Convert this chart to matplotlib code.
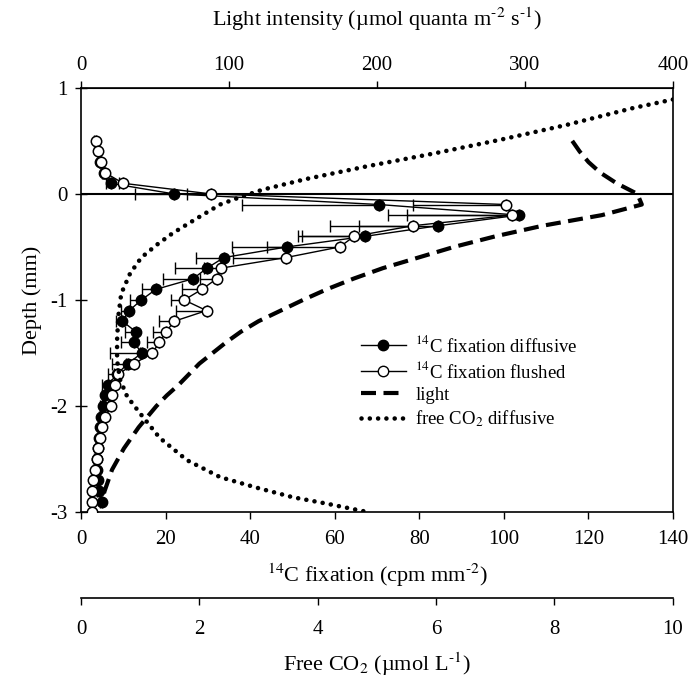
import numpy as np
import matplotlib
matplotlib.use("Agg")
import matplotlib.pyplot as plt
from matplotlib.lines import Line2D

plt.rcParams['font.family'] = ['Liberation Serif', 'DejaVu Serif']
plt.rcParams['mathtext.fontset'] = 'stix'
plt.rcParams['axes.unicode_minus'] = False

# 14C fixation, diffusive (filled circles)
depth_diff = [0.3, 0.2, 0.1, 0.0, -0.1, -0.2, -0.3, -0.4, -0.5, -0.6, -0.7, -0.8, -0.9,
              -1.0, -1.1, -1.2, -1.3, -1.4, -1.5, -1.6, -1.7, -1.8, -1.9, -2.0, -2.1,
              -2.2, -2.3, -2.4, -2.5, -2.6, -2.7, -2.8, -2.9]
fix_diff = [4.5, 5.5, 7.0, 22.0, 70.5, 103.5, 84.5, 67.2, 48.7, 33.8, 29.8, 26.5, 17.7,
            14.3, 11.4, 9.8, 13.0, 12.5, 14.4, 11.1, 8.5, 6.4, 5.7, 5.2, 4.8,
            4.5, 4.2, 4.0, 3.9, 3.8, 4.0, 4.3, 5.0]
err_diff = [0.3, 0.5, 1.0, 9.2, 32.5, 26.5, 18.7, 15.0, 4.7, 6.5, 7.6, 7.1, 3.3,
            2.7, 2.0, 1.5, 2.6, 3.0, 7.5, 3.8, 2.0, 1.5, 0.8, 0.6, 0.5,
            0.5, 0.5, 0.5, 0.5, 0.5, 0.5, 0.5, 0.5]

# 14C fixation, flushed (open circles)
depth_flush = [0.5, 0.4, 0.3, 0.2, 0.1, 0.0, -0.1, -0.2, -0.3, -0.4, -0.5, -0.6, -0.7,
               -0.8, -0.9, -1.0, -1.1, -1.2, -1.3, -1.4, -1.5, -1.6, -1.7, -1.8, -1.9,
               -2.0, -2.1, -2.2, -2.3, -2.4, -2.5, -2.6, -2.7, -2.8, -2.9, -3.0]
fix_flush = [3.5, 4.0, 4.7, 5.7, 10.0, 30.7, 100.5, 101.9, 78.5, 64.6, 61.2, 48.5, 33.1,
             32.1, 28.6, 24.4, 29.7, 22.1, 20.1, 18.5, 16.9, 12.6, 8.8, 8.0, 7.3,
             7.0, 5.7, 4.9, 4.5, 4.1, 3.7, 3.3, 2.8, 2.6, 2.6, 2.6]
err_flush = [0.3, 0.3, 0.3, 0.5, 1.0, 5.7, 22.0, 29.3, 19.6, 13.3, 25.5, 12.5, 4.0,
             4.0, 4.7, 3.1, 7.2, 3.7, 3.1, 3.0, 3.0, 2.0, 1.0, 0.8, 0.6,
             0.5, 0.5, 0.5, 0.5, 0.5, 0.5, 0.5, 0.5, 0.5, 0.5, 0.5]

# light profile (top axis)
depth_light = [0.5, 0.4, 0.3, 0.2, 0.1, 0.0, -0.1, -0.2, -0.3, -0.4, -0.5, -0.6, -0.7,
               -0.8, -0.9, -1.0, -1.1, -1.2, -1.3, -1.4, -1.5, -1.6, -1.7, -1.8, -1.9,
               -2.0, -2.1, -2.2, -2.3, -2.4, -2.5, -2.6, -2.7, -2.8, -2.9, -2.95]
light = [332, 337, 343, 351, 362, 376, 379, 352, 312, 280, 252, 228, 204,
         184, 166, 150, 135, 120, 108, 98, 89, 80, 73, 66, 58,
         51, 45, 39, 34, 29, 25, 21, 18.5, 16, 14, 13]

# free CO2, diffusive (bottom-most axis)
depth_co2 = [0.89, 0.81, 0.65, 0.51, 0.38, 0.26, 0.14, 0.04, -0.03, -0.1, -0.23, -0.37,
             -0.48, -0.6, -0.75, -0.94, -1.16, -1.38, -1.57, -1.75, -1.91, -2.07, -2.3,
             -2.51, -2.67, -2.77, -2.86, -2.92, -3.0]
co2 = [10.0, 9.33, 8.2, 7.08, 5.95, 4.83, 3.8, 3.07, 2.69, 2.35, 1.96, 1.55,
       1.28, 1.02, 0.83, 0.68, 0.63, 0.61, 0.61, 0.66, 0.78, 1.0, 1.33,
       1.79, 2.35, 2.97, 3.58, 4.15, 4.85]

dash_style = (0, (3.6, 1.8))
dot_style = (0, (0.01, 1.8))

fig = plt.figure(figsize=(6.98, 6.81), dpi=100)
ax = fig.add_axes([0.116, 0.248, 0.848, 0.623])

ax.axhline(0, color='k', lw=1.5, zorder=1)

ax.errorbar(fix_diff, depth_diff, xerr=[err_diff, np.zeros(len(err_diff))], fmt='none',
            ecolor='k', elinewidth=1, capsize=4.5, capthick=1, zorder=2)
ax.errorbar(fix_flush, depth_flush, xerr=[err_flush, np.zeros(len(err_flush))], fmt='none',
            ecolor='k', elinewidth=1, capsize=4.5, capthick=1, zorder=2)
ax.plot(fix_diff, depth_diff, '-o', color='k', mfc='k', mec='k', ms=7.5, lw=1, zorder=3)
ax.plot(fix_flush, depth_flush, '-o', color='k', mfc='white', mec='k', ms=7.5, mew=1.1,
        lw=1, zorder=4)

ax.set_xlim(0, 140)
ax.set_ylim(-3, 1)
ax.set_xticks(np.arange(0, 141, 20))
ax.set_yticks([-3, -2, -1, 0, 1])
ax.tick_params(axis='x', direction='out', length=5, width=1, labelsize=15, pad=8)
ax.tick_params(axis='y', direction='inout', length=9, width=1, labelsize=15, pad=5)
ax.tick_params(right=False)
ax.set_xlabel(r'$^{14}$C fixation (cpm mm$^{\text{-2}}$)', fontsize=16, labelpad=9)
ax.set_ylabel('Depth (mm)', fontsize=16, labelpad=6)
for s in ax.spines.values():
    s.set_linewidth(1.2)

# top axis: light intensity
ax2 = ax.twiny()
ax2.plot(light, depth_light, color='k', lw=3, linestyle=dash_style, zorder=2)
ax2.set_xlim(0, 400)
ax2.set_xticks(np.arange(0, 401, 100))
ax2.tick_params(axis='x', direction='out', length=5, width=1, labelsize=15, pad=4)
ax2.set_xlabel(r'Light intensity (µmol quanta m$^{\text{-2}}$ s$^{\text{-1}}$)',
               fontsize=16, labelpad=22)
for k in ['left', 'right', 'bottom']:
    ax2.spines[k].set_visible(False)

# bottom-most axis: free CO2
ax3 = ax.twiny()
ax3.plot(co2, depth_co2, color='k', lw=3.3, linestyle=dot_style,
         dash_capstyle='round', zorder=2)
ax3.set_xlim(0, 10)
ax3.set_xticks(np.arange(0, 11, 2))
ax3.xaxis.set_ticks_position('bottom')
ax3.xaxis.set_label_position('bottom')
ax3.spines['bottom'].set_position(('outward', 62))
for k in ['left', 'right', 'top']:
    ax3.spines[k].set_visible(False)
ax3.spines['bottom'].set_linewidth(1.2)
ax3.tick_params(axis='x', direction='out', length=5, width=1, labelsize=15, pad=11)
ax3.set_xlabel(r'Free CO$_2$ (µmol L$^{\text{-1}}$)', fontsize=16, labelpad=8)

handles = [
    Line2D([], [], color='k', lw=1, marker='o', ms=7.5, mfc='k'),
    Line2D([], [], color='k', lw=1, marker='o', ms=7.5, mfc='white'),
    Line2D([], [], color='k', lw=3, linestyle=dash_style),
    Line2D([], [], color='k', lw=3.3, linestyle=dot_style, dash_capstyle='round'),
]
labels = [r'$^{14}$C fixation diffusive', r'$^{14}$C fixation flushed', 'light',
          r'free CO$_2$ diffusive']
ax3.legend(handles, labels, loc='upper left', bbox_to_anchor=(0.46, 0.435), frameon=False,
           fontsize=13.5, handlelength=2.4, handletextpad=0.5, labelspacing=0.25,
           borderaxespad=0)

fig.savefig('out.png', dpi=100)
